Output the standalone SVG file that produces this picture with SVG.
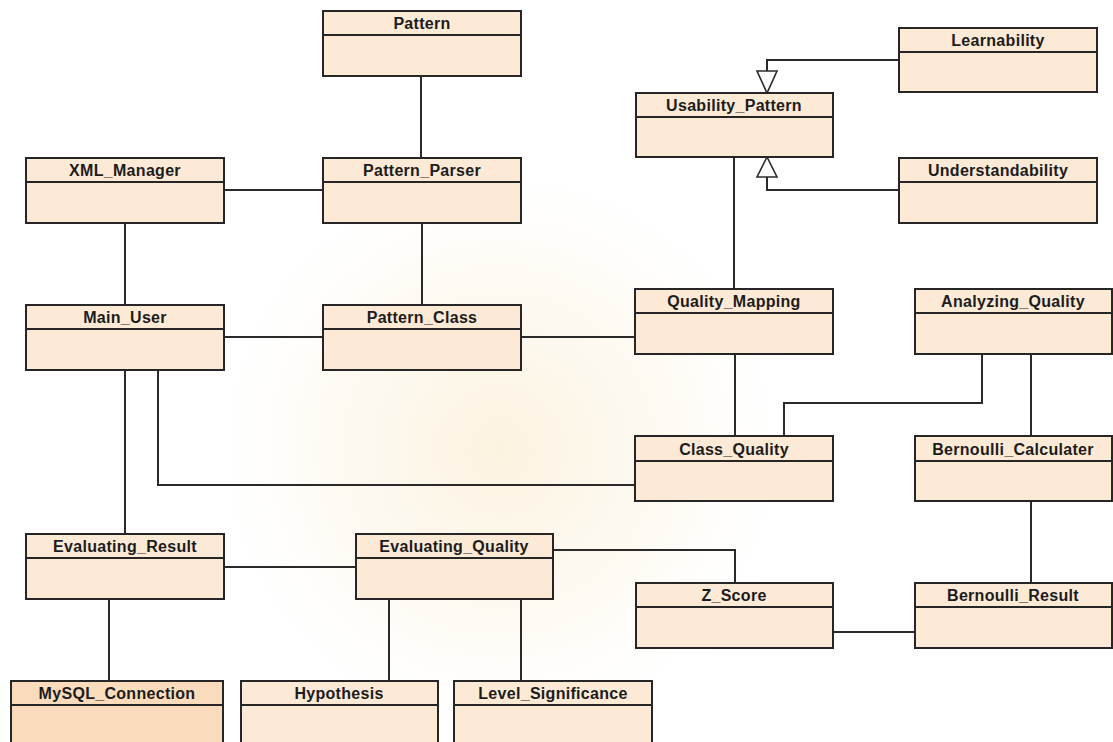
<svg xmlns="http://www.w3.org/2000/svg" width="1113" height="742" viewBox="0 0 1113 742">
  <style>
    .box { fill: #fcead6; stroke: #262626; stroke-width: 2; }
    .box.dark { fill: #fadcbd; }
    .sep { stroke: #262626; stroke-width: 2; }
    .label { font-family: "Liberation Sans", Arial, sans-serif; font-weight: bold; font-size: 16px; fill: #1c1c1c; text-anchor: middle; letter-spacing: 0.3px; }
    .conn { fill: none; stroke: #2a2a2a; stroke-width: 2; }
    .gen { fill: #ffffff; stroke: #2a2a2a; stroke-width: 1.6; }
  </style>
  <defs>
    <radialGradient id="glow" cx="0.5" cy="0.5" r="0.5">
      <stop offset="0" stop-color="#fbf1dc" stop-opacity="0.9"/>
      <stop offset="0.6" stop-color="#fdf6e8" stop-opacity="0.5"/>
      <stop offset="1" stop-color="#ffffff" stop-opacity="0"/>
    </radialGradient>
  </defs>

  <rect x="0" y="0" width="1113" height="742" fill="#ffffff"/>
  <!-- faint background emblem glow -->
  <ellipse cx="500" cy="450" rx="300" ry="300" fill="url(#glow)"/>

  <!-- connectors -->
  <g id="connectors">
    <path class="conn" d="M421 76 V158"/>
    <path class="conn" d="M224 190 H323"/>
    <path class="conn" d="M125 223 V305"/>
    <path class="conn" d="M422 223 V305"/>
    <path class="conn" d="M224 337 H323"/>
    <path class="conn" d="M521 337 H635"/>
    <path class="conn" d="M125 370 V534"/>
    <path class="conn" d="M158 370 V485 H635"/>
    <path class="conn" d="M734 157 V289"/>
    <path class="conn" d="M899 60 H767 V71"/>
    <polygon class="gen" points="757,71 777,71 767,93"/>
    <path class="conn" d="M899 190 H767 V177"/>
    <polygon class="gen" points="757,177 777,177 767,157"/>
    <path class="conn" d="M735 354 V436"/>
    <path class="conn" d="M982 354 V403 H784 V436"/>
    <path class="conn" d="M1031 354 V436"/>
    <path class="conn" d="M1031 501 V583"/>
    <path class="conn" d="M224 567 H356"/>
    <path class="conn" d="M553 550 H735 V583"/>
    <path class="conn" d="M833 632 H915"/>
    <path class="conn" d="M109 599 V681"/>
    <path class="conn" d="M389 599 V681"/>
    <path class="conn" d="M521 599 V681"/>
  </g>

  <!-- classes -->
  <g id="Pattern">
    <rect class="box" x="323" y="11" width="198" height="65"/>
    <line class="sep" x1="323" y1="35" x2="521" y2="35"/>
    <text class="label" x="422" y="29">Pattern</text>
  </g>
  <g id="XML_Manager">
    <rect class="box" x="26" y="158" width="198" height="65"/>
    <line class="sep" x1="26" y1="182" x2="224" y2="182"/>
    <text class="label" x="125" y="176">XML_Manager</text>
  </g>
  <g id="Pattern_Parser">
    <rect class="box" x="323" y="158" width="198" height="65"/>
    <line class="sep" x1="323" y1="182" x2="521" y2="182"/>
    <text class="label" x="422" y="176">Pattern_Parser</text>
  </g>
  <g id="Main_User">
    <rect class="box" x="26" y="305" width="198" height="65"/>
    <line class="sep" x1="26" y1="329" x2="224" y2="329"/>
    <text class="label" x="125" y="323">Main_User</text>
  </g>
  <g id="Pattern_Class">
    <rect class="box" x="323" y="305" width="198" height="65"/>
    <line class="sep" x1="323" y1="329" x2="521" y2="329"/>
    <text class="label" x="422" y="323">Pattern_Class</text>
  </g>
  <g id="Usability_Pattern">
    <rect class="box" x="636" y="93" width="197" height="64"/>
    <line class="sep" x1="636" y1="117" x2="833" y2="117"/>
    <text class="label" x="734" y="111">Usability_Pattern</text>
  </g>
  <g id="Learnability">
    <rect class="box" x="899" y="28" width="198" height="64"/>
    <line class="sep" x1="899" y1="52" x2="1097" y2="52"/>
    <text class="label" x="998" y="46">Learnability</text>
  </g>
  <g id="Understandability">
    <rect class="box" x="899" y="158" width="198" height="65"/>
    <line class="sep" x1="899" y1="182" x2="1097" y2="182"/>
    <text class="label" x="998" y="176">Understandability</text>
  </g>
  <g id="Quality_Mapping">
    <rect class="box" x="635" y="289" width="198" height="65"/>
    <line class="sep" x1="635" y1="313" x2="833" y2="313"/>
    <text class="label" x="734" y="307">Quality_Mapping</text>
  </g>
  <g id="Analyzing_Quality">
    <rect class="box" x="915" y="289" width="197" height="65"/>
    <line class="sep" x1="915" y1="313" x2="1112" y2="313"/>
    <text class="label" x="1013" y="307">Analyzing_Quality</text>
  </g>
  <g id="Class_Quality">
    <rect class="box" x="635" y="436" width="198" height="65"/>
    <line class="sep" x1="635" y1="461" x2="833" y2="461"/>
    <text class="label" x="734" y="455">Class_Quality</text>
  </g>
  <g id="Bernoulli_Calculater">
    <rect class="box" x="915" y="436" width="197" height="65"/>
    <line class="sep" x1="915" y1="461" x2="1112" y2="461"/>
    <text class="label" x="1013" y="455">Bernoulli_Calculater</text>
  </g>
  <g id="Evaluating_Result">
    <rect class="box" x="26" y="534" width="198" height="65"/>
    <line class="sep" x1="26" y1="558" x2="224" y2="558"/>
    <text class="label" x="125" y="552">Evaluating_Result</text>
  </g>
  <g id="Evaluating_Quality">
    <rect class="box" x="356" y="534" width="197" height="65"/>
    <line class="sep" x1="356" y1="558" x2="553" y2="558"/>
    <text class="label" x="454" y="552">Evaluating_Quality</text>
  </g>
  <g id="Z_Score">
    <rect class="box" x="636" y="583" width="197" height="65"/>
    <line class="sep" x1="636" y1="607" x2="833" y2="607"/>
    <text class="label" x="734" y="601">Z_Score</text>
  </g>
  <g id="Bernoulli_Result">
    <rect class="box" x="915" y="583" width="197" height="65"/>
    <line class="sep" x1="915" y1="607" x2="1112" y2="607"/>
    <text class="label" x="1013" y="601">Bernoulli_Result</text>
  </g>
  <g id="MySQL_Connection">
    <rect class="box dark" x="11" y="681" width="212" height="70"/>
    <line class="sep" x1="11" y1="705" x2="223" y2="705"/>
    <text class="label" x="117" y="699">MySQL_Connection</text>
  </g>
  <g id="Hypothesis">
    <rect class="box" x="241" y="681" width="197" height="70"/>
    <line class="sep" x1="241" y1="705" x2="438" y2="705"/>
    <text class="label" x="339" y="699">Hypothesis</text>
  </g>
  <g id="Level_Significance">
    <rect class="box" x="454" y="681" width="198" height="70"/>
    <line class="sep" x1="454" y1="705" x2="652" y2="705"/>
    <text class="label" x="553" y="699">Level_Significance</text>
  </g>
</svg>
